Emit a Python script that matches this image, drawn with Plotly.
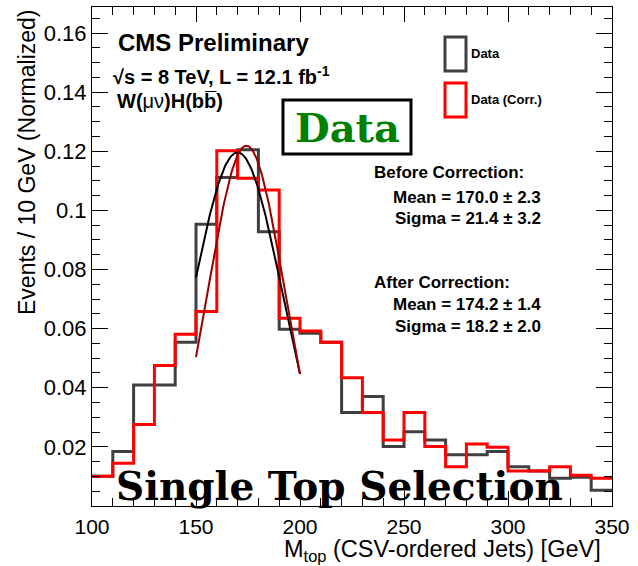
import numpy as np
import plotly.graph_objects as go

# ---------------- data ----------------
bin_edges = [100, 110, 120, 130, 140, 150, 160, 170, 180, 190, 200, 210, 220,
             230, 240, 250, 260, 270, 280, 290, 300, 310, 320, 330, 340, 350]
data_vals = [0.0101, 0.0184, 0.0409, 0.0409, 0.0554, 0.0953, 0.1111, 0.1205,
             0.0928, 0.0598, 0.0584, 0.0554, 0.0316, 0.0370, 0.0201, 0.0251,
             0.0223, 0.0173, 0.0173, 0.0184, 0.0133, 0.0118, 0.0094, 0.0097,
             0.0053]
corr_vals = [0.0101, 0.0145, 0.0276, 0.0475, 0.0581, 0.0658, 0.1202, 0.1109,
             0.1069, 0.0635, 0.0592, 0.0554, 0.0434, 0.0316, 0.0223, 0.0316,
             0.0201, 0.0133, 0.0210, 0.0199, 0.0118, 0.0118, 0.0133, 0.0104,
             0.0094]

# Gaussian fit parameters (amplitude, mean, sigma) and fit range
fit_before = dict(amp=0.1196, mean=170.0, sigma=21.4)
fit_after = dict(amp=0.1219, mean=174.2, sigma=18.2)
fit_range = [150, 200]

x_tickvals = [100, 150, 200, 250, 300, 350]
x_ticktext = ["100", "150", "200", "250", "300", "350"]
y_tickvals = [0.02, 0.04, 0.06, 0.08, 0.10, 0.12, 0.14, 0.16]
y_ticktext = ["0.02", "0.04", "0.06", "0.08", "0.1", "0.12", "0.14", "0.16"]

# ---------------- layout geometry ----------------
W_FIG, H_FIG = 638, 566
ML, MR, MT, MB = 92, 26, 7, 60
PW, PH = W_FIG - ML - MR, H_FIG - MT - MB


def px(x, y):
    """pixel position -> paper coords"""
    return (x - ML) / PW, (MT + PH - y) / PH


SANS = "Liberation Sans, Arial, sans-serif"
SERIF = "DejaVu Serif, serif"

fig = go.Figure()


def step_trace(vals, color, name):
    return go.Scatter(x=bin_edges, y=list(vals) + [vals[-1]], mode="lines",
                      line=dict(color=color, width=3, shape="hv"),
                      name=name, showlegend=False, hoverinfo="skip")


fig.add_trace(step_trace(data_vals, "#404040", "Data"))
fig.add_trace(step_trace(corr_vals, "#ff0000", "Data (Corr.)"))


def gauss(p):
    xs = np.linspace(fit_range[0], fit_range[1], 120)
    return xs, p["amp"] * np.exp(-0.5 * ((xs - p["mean"]) / p["sigma"]) ** 2)


xb, yb = gauss(fit_before)
xa, ya = gauss(fit_after)
fig.add_trace(go.Scatter(x=xb, y=yb, mode="lines", line=dict(color="#000000", width=2),
                         showlegend=False, hoverinfo="skip"))
fig.add_trace(go.Scatter(x=xa, y=ya, mode="lines", line=dict(color="#990000", width=2),
                         showlegend=False, hoverinfo="skip"))

shapes = []
annotations = []


def rect(x0, y0, x1, y1, color, width, fill="rgba(0,0,0,0)"):
    a0, b0 = px(x0, y0)
    a1, b1 = px(x1, y1)
    shapes.append(dict(type="rect", xref="paper", yref="paper", x0=a0, y0=b1, x1=a1, y1=b0,
                       line=dict(color=color, width=width), fillcolor=fill, layer="above"))


def text(x, y, s, size, xanchor="left", family=SANS, color="black", angle=0, yanchor="middle"):
    a, b = px(x, y)
    annotations.append(dict(x=a, y=b, xref="paper", yref="paper", text=s, showarrow=False,
                            xanchor=xanchor, yanchor=yanchor, textangle=angle,
                            font=dict(size=size, family=family, color=color)))


# Data box
rect(283, 100, 411, 154, "black", 3, fill="white")
text(347, 127, "<b>Data</b>", 40, xanchor="center", family=SERIF, color="#008000")

# legend
rect(445, 37, 466, 71, "#404040", 3)
rect(445, 83, 466, 117, "#ff0000", 3)
text(469, 54, "<b>Data</b>", 13)
text(469, 100, "<b>Data (Corr.)</b>", 13)

# CMS labels
text(116, 43, "<b>CMS Preliminary</b>", 24)
text(111, 75, "<b>√s = 8 TeV, L = 12.1 fb<sup>-1</sup></b>", 20)
text(115, 101, "<b>W(</b>μν<b>)H(bb\u0305)</b>", 20)

# stats
text(372, 172.5, "<b>Before Correction:</b>", 17)
text(543, 197, "<b>Mean = 170.0 ± 2.3</b>", 17, xanchor="right")
text(543, 218, "<b>Sigma = 21.4 ± 3.2</b>", 17, xanchor="right")
text(372, 282, "<b>After Correction:</b>", 17)
text(543, 305, "<b>Mean = 174.2 ± 1.4</b>", 17, xanchor="right")
text(543, 326, "<b>Sigma = 18.2 ± 2.0</b>", 17, xanchor="right")

# selection label
text(339, 486, "<b>Single Top Selection</b>", 39, xanchor="center", family=SERIF)

# axis titles
text(603, 550, "M<sub>top</sub> (CSV-ordered Jets) [GeV]", 23.5, xanchor="right")
annotations.append(dict(x=(27 - ML) / PW, y=1.0, xref="paper", yref="paper",
                        text="Events / 10 GeV (Normalized)", showarrow=False,
                        xanchor="center", yanchor="top", textangle=-90,
                        font=dict(size=23, family=SANS, color="black")))

fig.update_layout(
    width=W_FIG, height=H_FIG,
    margin=dict(l=ML, r=MR, t=MT, b=MB),
    paper_bgcolor="white", plot_bgcolor="white",
    shapes=shapes, annotations=annotations,
    showlegend=False,
    xaxis=dict(range=[100, 350], showgrid=False, zeroline=False,
               showline=True, linecolor="black", linewidth=1, mirror="ticks",
               ticks="inside", ticklen=15, tickcolor="black", tickwidth=1,
               tickvals=x_tickvals, ticktext=x_ticktext,
               tickfont=dict(size=21, family=SANS, color="black"),
               ticklabelstandoff=2,
               minor=dict(ticks="inside", ticklen=8, dtick=10, tick0=100, tickcolor="black", showgrid=False)),
    yaxis=dict(range=[0, 0.1688], showgrid=False, zeroline=False,
               showline=True, linecolor="black", linewidth=1, mirror="ticks",
               ticks="inside", ticklen=16, tickcolor="black", tickwidth=1,
               tickvals=y_tickvals, ticktext=y_ticktext,
               tickfont=dict(size=22, family=SANS, color="black"),
               minor=dict(ticks="inside", ticklen=8, dtick=0.005, tick0=0, tickcolor="black", showgrid=False)),
)

fig.write_html("out.html")
